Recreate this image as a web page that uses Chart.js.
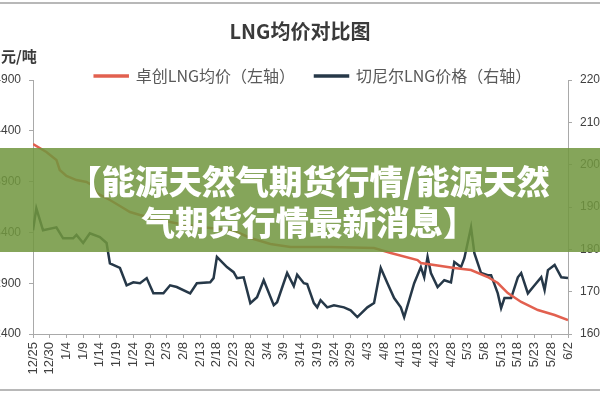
<!DOCTYPE html>
<html>
<head>
<meta charset="utf-8">
<script src="https://cdn.jsdelivr.net/npm/chart.js@4.4.1/dist/chart.umd.min.js"></script>
<style>
html,body{margin:0;padding:0;width:600px;height:400px;overflow:hidden;background:#fff;}
#frame{position:absolute;left:0;top:2px;width:600px;height:389px;border-top:2px solid #b8b8b8;border-bottom:2px solid #b8b8b8;box-sizing:border-box;}
#wrap{position:absolute;left:-2px;top:0;width:630px;height:400px;}
#banner{position:absolute;left:0;top:148px;width:600px;height:104px;background:rgba(113,150,63,0.86);color:#fff;
  font-family:"Noto Sans CJK SC","Noto Sans CJK JP",sans-serif;font-weight:900;font-size:33.5px;line-height:41px;
  text-align:center;padding-top:11px;padding-left:18px;box-sizing:border-box;white-space:nowrap;z-index:5;}
</style>
</head>
<body>
<div id="frame"></div>
<div id="wrap"><canvas id="c" width="630" height="400"></canvas></div>
<div id="banner">【能源天然气期货行情/能源天然<br>气期货行情最新消息】</div>
<script>
// ---- data ----
const chartTitle = 'LNG均价对比图';
const unitLabel = '元/吨';
const seriesNames = ['卓创LNG均价（左轴）', '切尼尔LNG价格（右轴）'];
// x tick labels, one every 5 days starting 12/25 (day 0) to 6/2 (day 160)
const dateLabels = ['12/25','12/30','1/4','1/9','1/14','1/19','1/24','1/29','2/3','2/8','2/13','2/18','2/23','2/28',
  '3/4','3/9','3/14','3/19','3/24','3/29','4/3','4/8','4/13','4/18','4/23','4/28','5/3','5/8','5/13','5/18','5/23','5/28','6/2'];
// 卓创LNG均价 (left axis): day offsets and values
const redDays   = [0,4,7,8,10,13,16,18,19,23,26,29,32,38,44,50,56,61,65,71,77,89,102,107,115,116,126,131,136,139,142,146,151,156,160];
const redValues = [4270,4191,4113,4014,3955,3915,3896,3857,3788,3719,3660,3601,3571,3522,3483,3453,3433,3404,3345,3286,3256,3256,3246,3197,3128,3099,3050,3030,2961,2902,2803,2715,2636,2587,2538];
// 切尼尔LNG价格 (right axis): day offsets and values
const blueDays   = [0,1,3,7,9,12,13,15,17,20,22,23,26,28,30,32,34,36,39,41,43,47,49,53,54,55,58,60,61,63,65,67,69,72,73,76,78,79,81,82,84,85,86,88,90,93,95,97,100,102,104,106,108,110,111,114,116,117,118,119,121,123,125,126,128,129,131,132,134,136,137,139,140,141,143,145,146,148,150,152,153,154,156,158,160];
const blueValues = [1845,1897,1845,1852,1826,1826,1834,1815,1838,1829,1815,1767,1756,1715,1722,1720,1732,1696,1696,1715,1711,1696,1720,1722,1732,1782,1758,1746,1732,1734,1673,1687,1727,1668,1675,1744,1713,1740,1720,1718,1673,1663,1680,1663,1668,1663,1656,1640,1663,1673,1756,1720,1685,1663,1640,1720,1758,1734,1782,1744,1711,1727,1722,1770,1758,1779,1852,1791,1744,1739,1739,1696,1661,1685,1685,1734,1744,1696,1715,1734,1704,1751,1763,1734,1732];
const leftTicks = {min: 2400, max: 4900, step: 500};
const rightTicks = {min: 1600, max: 2200, step: 100};

const axisColor = '#a9a9a9';
const tickColor = '#404040';

const textPlugin = {
  id: 'textPlugin',
  afterLayout(chart) {
    const lg = chart.legend;
    if (lg) {
      const p = chart.options.plugins.legend.labels.padding;
      const f = chart.options.plugins.legend.labels.font.size;
      const dy = 76 - (lg.top + p + f / 2);
      lg.top += dy; lg.bottom += dy;
    }
  },
  afterDraw(chart) {
    const ctx = chart.ctx;
    ctx.save();
    ctx.fillStyle = '#3a3a3a';
    ctx.textBaseline = 'middle';
    ctx.textAlign = 'center';
    ctx.font = 'bold 20px "Noto Sans CJK SC", sans-serif';
    ctx.fillText(chartTitle, 302, 31);
    ctx.textAlign = 'left';
    ctx.font = 'bold 15px "Noto Sans CJK SC", sans-serif';
    ctx.fillText(unitLabel, 3, 56);
    ctx.restore();
  }
};

new Chart(document.getElementById('c'), {
  type: 'line',
  data: {
    datasets: [
      {
        label: seriesNames[0],
        data: redDays.map((d, i) => ({x: d, y: redValues[i]})),
        borderColor: '#e2604f', backgroundColor: '#e2604f',
        borderWidth: 2.5, pointRadius: 0, tension: 0, yAxisID: 'yL'
      },
      {
        label: seriesNames[1],
        data: blueDays.map((d, i) => ({x: d, y: blueValues[i]})),
        borderColor: '#263848', backgroundColor: '#263848',
        borderWidth: 2.5, pointRadius: 0, tension: 0, yAxisID: 'yR'
      }
    ]
  },
  options: {
    responsive: false,
    animation: false,
    devicePixelRatio: 1,
    layout: {padding: {top: 34, left: 0, right: 0, bottom: 0}},
    plugins: {
      title: {display: false},
      tooltip: {enabled: false},
      legend: {
        display: true,
        position: 'top',
        labels: {
          boxWidth: 33, boxHeight: 1, padding: 20, color: '#595959',
          font: {size: 16, family: '"Noto Sans CJK SC", sans-serif'}
        }
      }
    },
    scales: {
      x: {
        type: 'linear', min: 0, max: 160,
        afterFit(s) { s.height = 66; },
        border: {display: true, color: axisColor, width: 1},
        grid: {drawOnChartArea: false, drawTicks: true, tickLength: 4, color: axisColor},
        ticks: {
          stepSize: 5, autoSkip: false, maxRotation: 90, minRotation: 90, padding: 4,
          color: tickColor, font: {size: 13, family: '"Liberation Sans", sans-serif'},
          callback: (v) => dateLabels[Math.round(v / 5)]
        }
      },
      yL: {
        type: 'linear', position: 'left',
        min: leftTicks.min, max: leftTicks.max,
        afterFit(s) { s.width = 35; },
        border: {display: true, color: axisColor, width: 1},
        grid: {drawOnChartArea: false, drawTicks: true, tickLength: 4, color: axisColor},
        ticks: {stepSize: leftTicks.step, padding: 8, color: tickColor, font: {size: 12, family: '"Liberation Sans", sans-serif'}, callback: (v) => String(v)}
      },
      yR: {
        type: 'linear', position: 'right',
        min: rightTicks.min, max: rightTicks.max,
        afterFit(s) { s.width = 60; },
        border: {display: true, color: axisColor, width: 1},
        grid: {drawOnChartArea: false, drawTicks: true, tickLength: 4, color: axisColor},
        ticks: {stepSize: rightTicks.step, padding: 8, color: tickColor, font: {size: 12, family: '"Liberation Sans", sans-serif'}, callback: (v) => String(v)}
      }
    }
  },
  plugins: [textPlugin]
});
</script>
</body>
</html>
